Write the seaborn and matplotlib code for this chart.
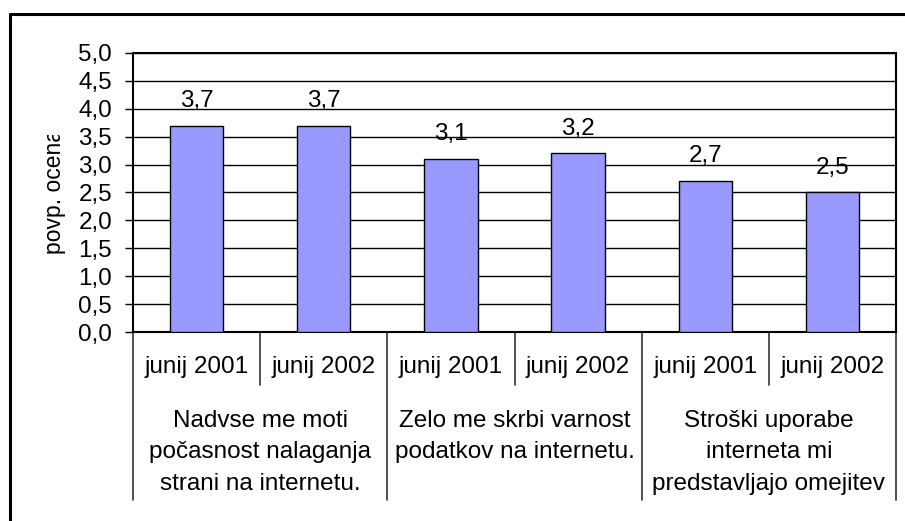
import matplotlib
matplotlib.use("Agg")
import matplotlib.pyplot as plt
from matplotlib.lines import Line2D
import matplotlib.transforms as mtransforms
import seaborn as sns
import pandas as pd

# Data
groups = [
    "Nadvse me moti\npočasnost nalaganja\nstrani na internetu.",
    "Zelo me skrbi varnost\npodatkov na internetu.",
    "Stroški uporabe\ninterneta mi\npredstavljajo omejitev",
]
periods = ["junij 2001", "junij 2002"]
values = [3.7, 3.7, 3.1, 3.2, 2.7, 2.5]
y_ticks = [0.0, 0.5, 1.0, 1.5, 2.0, 2.5, 3.0, 3.5, 4.0, 4.5, 5.0]
y_label = "povp. ocena"

rows = []
for gi, g in enumerate(groups):
    for pi, p in enumerate(periods):
        rows.append({"key": f"{gi}-{pi}", "group": g, "period": p,
                     "value": values[gi * len(periods) + pi]})
df = pd.DataFrame(rows)

sns.set_theme(style="white")
plt.rcParams["font.family"] = ["Liberation Sans", "DejaVu Sans"]
FS = 17.5

fig = plt.figure(figsize=(9.05, 5.21), dpi=100)
W, H = 905, 521
x0, x1, ytop, ybot = 133, 896, 53, 332
ax = fig.add_axes([x0 / W, (H - ybot) / H, (x1 - x0) / W, (ybot - ytop) / H])

sns.barplot(data=df, x="key", y="value", order=df["key"].tolist(),
            color="#9999FF", saturation=1, width=0.42,
            edgecolor="black", linewidth=1.0, ax=ax, zorder=3)

ax.set_ylim(0, 5)
ax.set_xlim(-0.5, len(values) - 0.5)
ax.set_yticks(y_ticks)
ax.set_yticklabels([f"{t:.1f}".replace(".", ",") for t in y_ticks], fontsize=FS)
ax.yaxis.grid(True, color="black", linewidth=1.0, zorder=0)
ax.set_axisbelow(True)
ax.tick_params(axis="y", which="major", left=True, length=6, width=1,
               color="black", pad=9, labelcolor="black")
ax.tick_params(axis="x", bottom=False, labelbottom=False)
ax.set_xlabel("")
ax.set_ylabel("")
for s in ax.spines.values():
    s.set_visible(True)
    s.set_color("black")
    s.set_linewidth(1.5)

# Value labels
for c in ax.containers:
    ax.bar_label(c, labels=[f"{v:.1f}".replace(".", ",") for v in c.datavalues],
                 padding=10, fontsize=FS, color="black")

# Multi-level category axis
trans = mtransforms.blended_transform_factory(ax.transData, ax.transAxes)
span = ybot - ytop
short_y = -(385 - ybot) / span
long_y = -(500 - ybot) / span
n_per = len(periods)
for i in range(len(values) + 1):
    xb = i - 0.5
    yend = long_y if i % n_per == 0 else short_y
    ax.add_line(Line2D([xb, xb], [0, yend], transform=trans, color="#333333",
                       linewidth=1.2, clip_on=False))
for i, p in enumerate(df["period"]):
    ax.text(i, -(367 - ybot) / span, p, transform=trans,
            ha="center", va="center", fontsize=FS, color="black")
for gi, g in enumerate(groups):
    xc = gi * n_per + (n_per - 1) / 2
    ax.text(xc, -(410 - ybot) / span, g, transform=trans,
            ha="center", va="top", fontsize=FS, color="black",
            linespacing=1.55, multialignment="center")

# Y axis title, cut off at the top of its label box
yl = fig.text(54 / W, 1 - 254 / H, y_label, rotation=90, ha="center",
              va="bottom", fontsize=16.5, color="black")
box = mtransforms.TransformedBbox(
    mtransforms.Bbox.from_extents(0, 0, 1, 1 - 135 / H), fig.transFigure)
yl.set_clip_box(box)
yl.set_clip_on(True)

# Chart area frame
fig.add_artist(Line2D([10 / W, 10 / W], [0, 1 - 14 / H], transform=fig.transFigure,
                      color="black", linewidth=2.2))
fig.add_artist(Line2D([10 / W, 1], [1 - 14 / H, 1 - 14 / H], transform=fig.transFigure,
                      color="black", linewidth=2.2))

fig.savefig("out.png", dpi=100, facecolor="white")
